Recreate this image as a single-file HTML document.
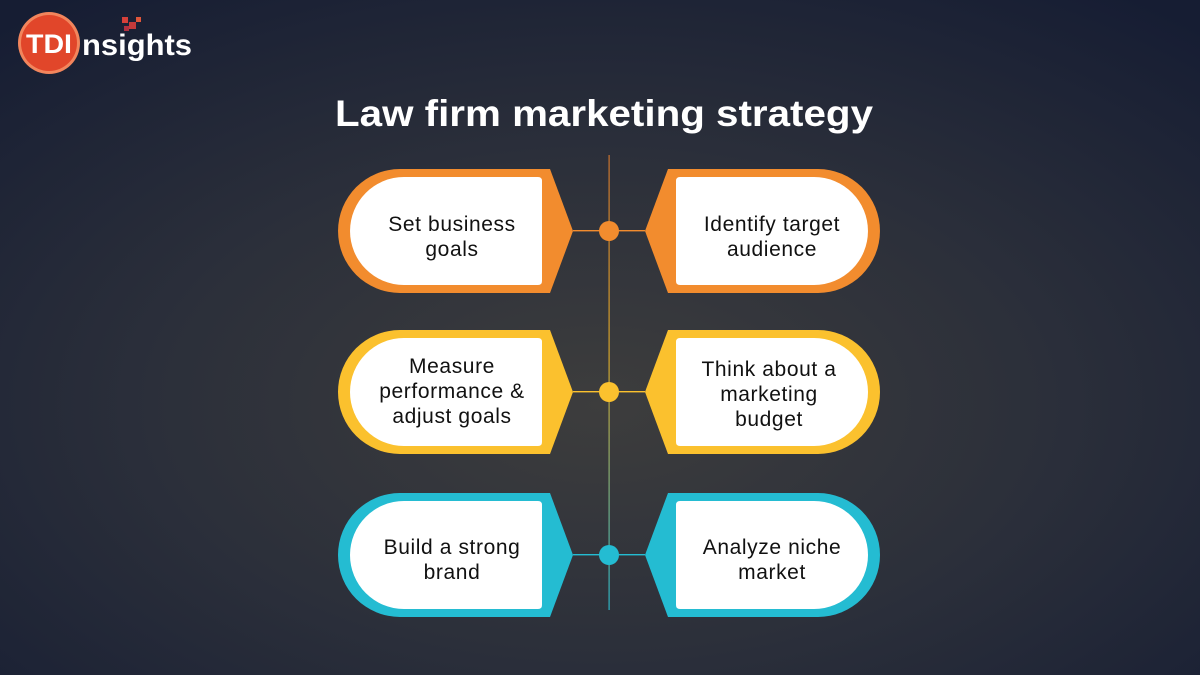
<!DOCTYPE html>
<html><head><meta charset="utf-8"><style>
html,body{margin:0;padding:0;}
body{width:1200px;height:675px;overflow:hidden;background:#1b2236;}
svg{display:block;font-family:"Liberation Sans",sans-serif;}
</style></head><body>
<svg width="1200" height="675" viewBox="0 0 1200 675" xmlns="http://www.w3.org/2000/svg">
<defs>
<radialGradient id="bg" cx="0.5" cy="0.6" r="0.75">
<stop offset="0" stop-color="#3d3d3d"/>
<stop offset="0.5" stop-color="#2b2f3a"/>
<stop offset="1" stop-color="#161d33"/>
</radialGradient>
<linearGradient id="vl" x1="0" y1="0" x2="0" y2="1">
<stop offset="0" stop-color="#c9722e"/>
<stop offset="0.45" stop-color="#d4a62a"/>
<stop offset="1" stop-color="#2ab3c6"/>
</linearGradient>
</defs>
<rect width="1200" height="675" fill="url(#bg)"/>
<circle cx="49" cy="43" r="31" fill="#f2855c"/>
<circle cx="49" cy="43" r="28" fill="#e1462a"/>
<text x="49" y="53" text-anchor="middle" font-size="27" font-weight="bold" fill="#fff" textLength="46" lengthAdjust="spacingAndGlyphs">TDI</text>
<text x="82" y="55" font-size="30" font-weight="bold" fill="#fff" textLength="110" lengthAdjust="spacingAndGlyphs">nsights</text>
<rect x="122" y="17" width="6" height="6" fill="#d6403a"/>
<rect x="129" y="22" width="7" height="7" fill="#c43a3a"/>
<rect x="136" y="17" width="5" height="5" fill="#e0563a"/>
<rect x="124" y="26" width="5" height="5" fill="#b03040"/>
<text x="604" y="126" text-anchor="middle" font-size="37" font-weight="bold" fill="#fff" textLength="538" lengthAdjust="spacingAndGlyphs">Law firm marketing strategy</text>
<rect x="608.5" y="155" width="1.2" height="455" fill="url(#vl)"/>

<g>
<g fill="#f28c2e">
<path d="M400 169 H550 L573 231 L550 293 H400 A62 62 0 0 1 400 169Z"/>
<path d="M818 169 H668 L645 231 L668 293 H818 A62 62 0 0 0 818 169Z"/>
<rect x="573" y="230" width="72" height="1.4"/>
<circle cx="609" cy="231" r="10"/>
</g>
<g fill="#fff">
<path d="M404 177 H538 Q542 177 542 181 V281 Q542 285 538 285 H404 A54 54 0 0 1 404 177Z"/>
<path d="M814 177 H680 Q676 177 676 181 V281 Q676 285 680 285 H814 A54 54 0 0 0 814 177Z"/>
</g>
<g font-size="21" fill="#111" text-anchor="middle" letter-spacing="0.6">
<text x="452" y="231">Set business</text><text x="452" y="256">goals</text>
<text x="772" y="231">Identify target</text><text x="772" y="256">audience</text>
</g>
</g>

<g>
<g fill="#fbc12e">
<path d="M400 330 H550 L573 392 L550 454 H400 A62 62 0 0 1 400 330Z"/>
<path d="M818 330 H668 L645 392 L668 454 H818 A62 62 0 0 0 818 330Z"/>
<rect x="573" y="391" width="72" height="1.4"/>
<circle cx="609" cy="392" r="10"/>
</g>
<g fill="#fff">
<path d="M404 338 H538 Q542 338 542 342 V442 Q542 446 538 446 H404 A54 54 0 0 1 404 338Z"/>
<path d="M814 338 H680 Q676 338 676 342 V442 Q676 446 680 446 H814 A54 54 0 0 0 814 338Z"/>
</g>
<g font-size="21" fill="#111" text-anchor="middle" letter-spacing="0.6">
<text x="452" y="373">Measure</text><text x="452" y="398">performance &amp;</text><text x="452" y="423">adjust goals</text>
<text x="769" y="376">Think about a</text><text x="769" y="401">marketing</text><text x="769" y="426">budget</text>
</g>
</g>

<g>
<g fill="#24bcd2">
<path d="M400 493 H550 L573 555 L550 617 H400 A62 62 0 0 1 400 493Z"/>
<path d="M818 493 H668 L645 555 L668 617 H818 A62 62 0 0 0 818 493Z"/>
<rect x="573" y="554" width="72" height="1.4"/>
<circle cx="609" cy="555" r="10"/>
</g>
<g fill="#fff">
<path d="M404 501 H538 Q542 501 542 505 V605 Q542 609 538 609 H404 A54 54 0 0 1 404 501Z"/>
<path d="M814 501 H680 Q676 501 676 505 V605 Q676 609 680 609 H814 A54 54 0 0 0 814 501Z"/>
</g>
<g font-size="21" fill="#111" text-anchor="middle" letter-spacing="0.6">
<text x="452" y="554">Build a strong</text><text x="452" y="579">brand</text>
<text x="772" y="554">Analyze niche</text><text x="772" y="579">market</text>
</g>
</g>
</svg>
</body></html>
